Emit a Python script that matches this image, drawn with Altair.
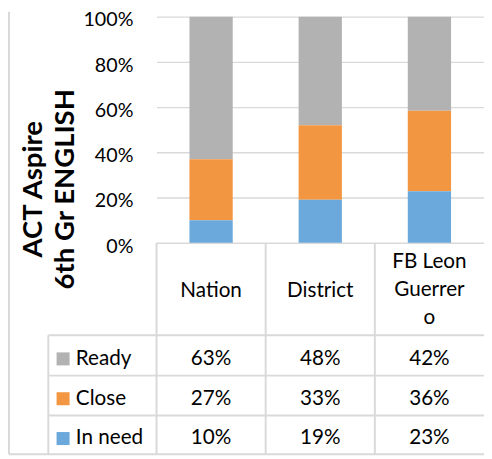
import altair as alt
import pandas as pd

categories = ["Nation", "District", "FB Leon Guerrero"]
header_labels = ["Nation", "District", "FB Leon\nGuerrer\no"]
series = ["Ready", "Close", "In need"]
ready = [63, 48, 42]
close = [27, 33, 36]
in_need = [10, 19, 23]
colors = ["#B2B2B2", "#F39642", "#6BA9DC"]
y_ticks = [0, 0.2, 0.4, 0.6, 0.8, 1.0]

rows = []
for s, vals in zip(series, [ready, close, in_need]):
    for c, v in zip(categories, vals):
        rows.append({"category": c, "series": s, "value": v,
                     "stack_order": len(series) - 1 - series.index(s)})
df = pd.DataFrame(rows)
head_df = pd.DataFrame({"category": categories, "header": header_labels})
leg_df = pd.DataFrame({"series": series})
one = pd.DataFrame({"a": [0]})

W, H = 333, 230
FONT = "Lato"
LINE = "#d9d9d9"

x_scale = alt.Scale(type="band", domain=categories, paddingInner=0, paddingOuter=0)
color_scale = alt.Scale(domain=series, range=colors)
row_scale = alt.Scale(type="point", domain=series, range=[348, 429], padding=0)

xenc = alt.X("category:N", scale=x_scale, axis=None, sort=categories)

bars = alt.Chart(df).mark_bar(size=44).encode(
    x=xenc,
    y=alt.Y("value:Q", stack="normalize",
            scale=alt.Scale(domain=[0, 1], nice=False),
            axis=alt.Axis(values=y_ticks, format=".0%",
                          grid=True, gridColor=LINE, gridWidth=1.5,
                          domain=False, ticks=False, tickSize=0,
                          labelPadding=24, labelOffset=3.5,
                          labelFont=FONT, labelFontSize=20, labelColor="#000000",
                          title=["ACT Aspire", "6th Gr ENGLISH"],
                          titleAngle=270, titleX=-125, titleY=175,
                          titleAlign="center", titleBaseline="middle",
                          titleFont=FONT, titleFontSize=28, titleFontWeight="bold",
                          titleLineHeight=33, titleColor="#000000")),
    color=alt.Color("series:N", scale=color_scale, legend=None),
    order=alt.Order("stack_order:Q", sort="ascending"),
)

values_text = alt.Chart(df).transform_calculate(
    label="datum.value + '%'"
).mark_text(font=FONT, fontSize=21, color="#000000").encode(
    x=xenc,
    y=alt.Y("series:N", scale=row_scale, axis=None),
    text="label:N",
)

header_single = alt.Chart(head_df).transform_filter(
    "indexof(datum.header, '\\n') < 0"
).mark_text(font=FONT, fontSize=21, color="#000000").encode(
    x=xenc, y=alt.value(279), text="header:N")

header_multi = alt.Chart(head_df).transform_filter(
    "indexof(datum.header, '\\n') >= 0"
).mark_text(
    font=FONT, fontSize=21, color="#000000", lineBreak="\n", lineHeight=28.5
).encode(x=xenc, y=alt.value(250), text="header:N")

swatches = alt.Chart(leg_df).mark_square(size=175, opacity=1).encode(
    x=alt.value(-95),
    y=alt.Y("series:N", scale=row_scale, axis=None),
    color=alt.Color("series:N", scale=color_scale, legend=None),
)

legend_text = alt.Chart(leg_df).mark_text(
    font=FONT, fontSize=21, color="#000000", align="left"
).encode(
    x=alt.value(-82),
    y=alt.Y("series:N", scale=row_scale, axis=None),
    text="series:N",
)

band_lines = alt.Chart(head_df).mark_rule(color=LINE, strokeWidth=2).encode(
    x=alt.X("category:N", scale=x_scale, axis=None, sort=categories, bandPosition=0),
    y=alt.value(230), y2=alt.value(445),
)

def hrule(y, x0):
    return alt.Chart(one).mark_rule(color=LINE, strokeWidth=2).encode(
        y=alt.value(y), x=alt.value(x0), x2=alt.value(W))

def vrule(x, y0, y1):
    return alt.Chart(one).mark_rule(color=LINE, strokeWidth=2).encode(
        x=alt.value(x), y=alt.value(y0), y2=alt.value(y1))

rules = [
    vrule(-110, 324, 445),
    vrule(-150, -5, 445),
    hrule(324, -110),
    hrule(365, -110),
    hrule(405.5, -110),
    hrule(445, -150),
]

chart = alt.layer(
    *rules, band_lines, bars, values_text, header_single, header_multi,
    swatches, legend_text
).resolve_scale(y="independent").properties(
    width=W, height=H,
    padding={"left": 151, "top": 5, "right": 0, "bottom": 216},
    autosize=alt.AutoSizeParams(type="none"),
).configure_view(stroke=None)

chart.save("out.html", embed_options={"renderer": "svg", "actions": False})
